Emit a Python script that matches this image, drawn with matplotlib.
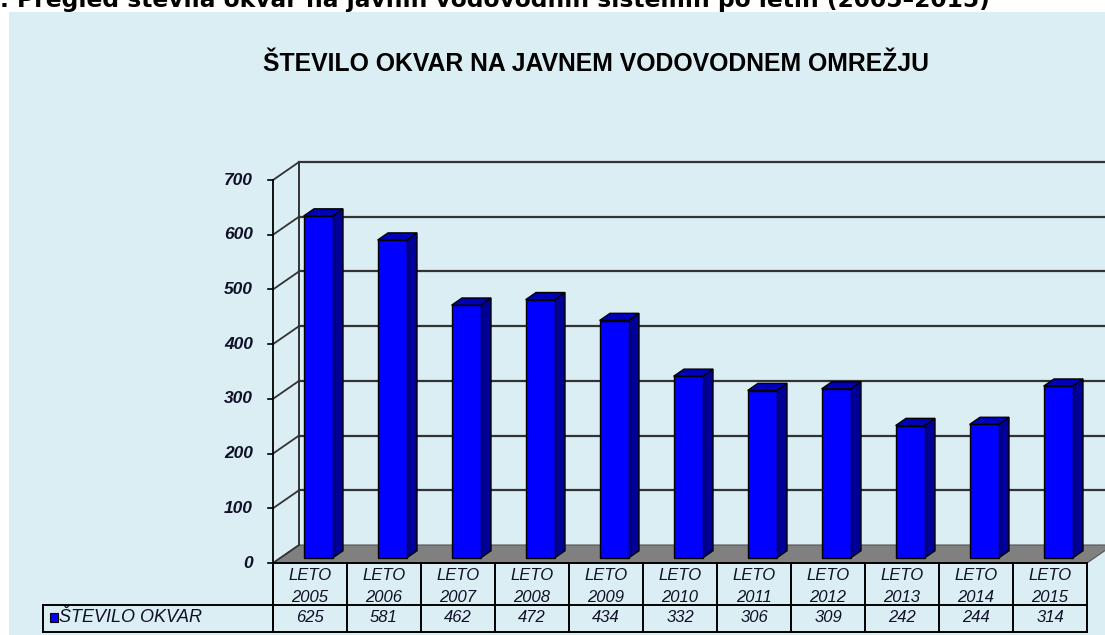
import matplotlib
matplotlib.use('Agg')
import matplotlib.pyplot as plt
import numpy as np

# data
years = ['2005', '2006', '2007', '2008', '2009', '2010', '2011', '2012', '2013', '2014', '2015']
okvare = [625, 581, 462, 472, 434, 332, 306, 309, 242, 244, 314]
y_ticks = [0, 100, 200, 300, 400, 500, 600, 700]
series_name = 'ŠTEVILO OKVAR'
chart_title = 'ŠTEVILO OKVAR NA JAVNEM VODOVODNEM OMREŽJU'
caption = '. Pregled števila okvar na javnih vodovodnih sistemih po letih (2005–2015)'

W, H = 1105, 635
PX_CAT = 74.0      # pixels per category
PX_VAL = 0.5471    # pixels per unit
X0, Y0 = 273, 563  # front origin in pixels
DX = 26 / PX_CAT   # depth offset (categories)
DY = 18 / PX_VAL   # depth offset (value units)

def P(x, v, d):
    # oblique projection of (category, value, depth)
    return (x + DX * d, v + DY * d)

def vx(px):
    return (px - X0) / PX_CAT

def vy(py):
    return (Y0 - py) / PX_VAL

fig = plt.figure(figsize=(W / 100, H / 100), dpi=100)
fig.patch.set_facecolor('white')

# light blue chart area
bg = plt.Rectangle((9 / W, 0), 1 - 9 / W, 1 - 12 / H, transform=fig.transFigure,
                   facecolor='#DAEEF3', edgecolor='none', zorder=-10)
fig.patches.append(bg)

fig.text(0.0, 1 - 7 / H, caption, family='DejaVu Sans', fontweight='bold',
         fontsize=16.8, va='baseline', ha='left', color='black')
fig.text(596 / W, 1 - 64 / H, chart_title, family='Liberation Sans', fontweight='bold',
         fontsize=17.8, ha='center', va='center', color='black')

ax = fig.add_axes([X0 / W, (H - Y0) / H, (W - X0) / W, (Y0 - 140) / H])
ax.set_xlim(0, (W - X0) / PX_CAT)
ax.set_ylim(0, (Y0 - 140) / PX_VAL)
ax.axis('off')
ax.patch.set_alpha(0)

n = len(years)
grid_col = '#333333'
txt_col = '#101028'

# floor
floor = [P(0, 0, 0), P(n, 0, 0), P(n, 0, 1), P(0, 0, 1)]
ax.fill(*zip(*floor), facecolor='#808080', edgecolor='#555555', lw=0.8,
        zorder=1, clip_on=False)

# back wall gridlines + side wall diagonals + ticks
xr = ax.get_xlim()[1]
for t in y_ticks:
    bx, by = P(0, t, 1)
    if t > 0:
        ax.plot([bx, xr], [by, by], color=grid_col, lw=1.6, zorder=1, clip_on=False)
    ax.plot([0, bx], [t, by], color=grid_col, lw=1.3, zorder=1, clip_on=False)
    ax.plot([vx(268), 0], [t, t], color='black', lw=1.2, zorder=2, clip_on=False)
    ax.text(vx(253), t, str(t), ha='right', va='center', fontsize=12.5,
            family='Liberation Sans', fontweight='bold', style='italic', color=txt_col)

ax.plot([0, 0], [vy(632), y_ticks[-1]], color='black', lw=1.3, zorder=2, clip_on=False)
bx0, by0 = P(0, 0, 1)
ax.plot([bx0, bx0], [by0, P(0, y_ticks[-1], 1)[1]], color=grid_col, lw=1.4, zorder=1)

# bars
d0, d1 = 0.28, 0.68
bl, bw = 0.315, 0.392
for i, h in enumerate(okvare):
    x0, x1 = i + bl, i + bl + bw
    front = [P(x0, 0, d0), P(x1, 0, d0), P(x1, h, d0), P(x0, h, d0)]
    side = [P(x1, 0, d0), P(x1, 0, d1), P(x1, h, d1), P(x1, h, d0)]
    top = [P(x0, h, d0), P(x1, h, d0), P(x1, h, d1), P(x0, h, d1)]
    ax.fill(*zip(*side), facecolor='#000099', edgecolor='black', lw=1, zorder=3)
    ax.fill(*zip(*top), facecolor='#0000B8', edgecolor='black', lw=1, zorder=3)
    ax.fill(*zip(*front), facecolor='#0000FF', edgecolor='black', lw=1, zorder=3)

# data table
ya, yb, yc = vy(563), vy(605), vy(632)
ax.plot([0, n], [ya, ya], color='black', lw=1.4, clip_on=False, zorder=4)
for yy in (yb, yc):
    ax.plot([vx(43), n], [yy, yy], color='black', lw=1.4, clip_on=False, zorder=4)
ax.plot([vx(43), vx(43)], [yb, yc], color='black', lw=1.4, clip_on=False, zorder=4)
for i in range(n + 1):
    ax.plot([i, i], [ya, yc], color='black', lw=1.4, clip_on=False, zorder=4)

for i, (yr, val) in enumerate(zip(years, okvare)):
    ax.text(i + 0.5, vy(576), 'LETO', ha='center', va='center', fontsize=12,
            family='Liberation Sans', style='italic', color=txt_col, clip_on=False)
    ax.text(i + 0.5, vy(597), yr, ha='center', va='center', fontsize=12,
            family='Liberation Sans', style='italic', color=txt_col, clip_on=False)
    ax.text(i + 0.5, vy(618), str(val), ha='center', va='center', fontsize=12,
            family='Liberation Sans', style='italic', color=txt_col, clip_on=False)

sq = plt.Rectangle((vx(50), vy(622)), 8 / PX_CAT, 9 / PX_VAL, facecolor='#0000FF',
                   edgecolor='black', lw=0.8, clip_on=False, zorder=5)
ax.add_patch(sq)
ax.text(vx(59), vy(617), series_name, ha='left', va='center', fontsize=13,
        family='Liberation Sans', style='italic', color=txt_col, clip_on=False)

fig.savefig('out.png', dpi=100, facecolor=fig.get_facecolor())
